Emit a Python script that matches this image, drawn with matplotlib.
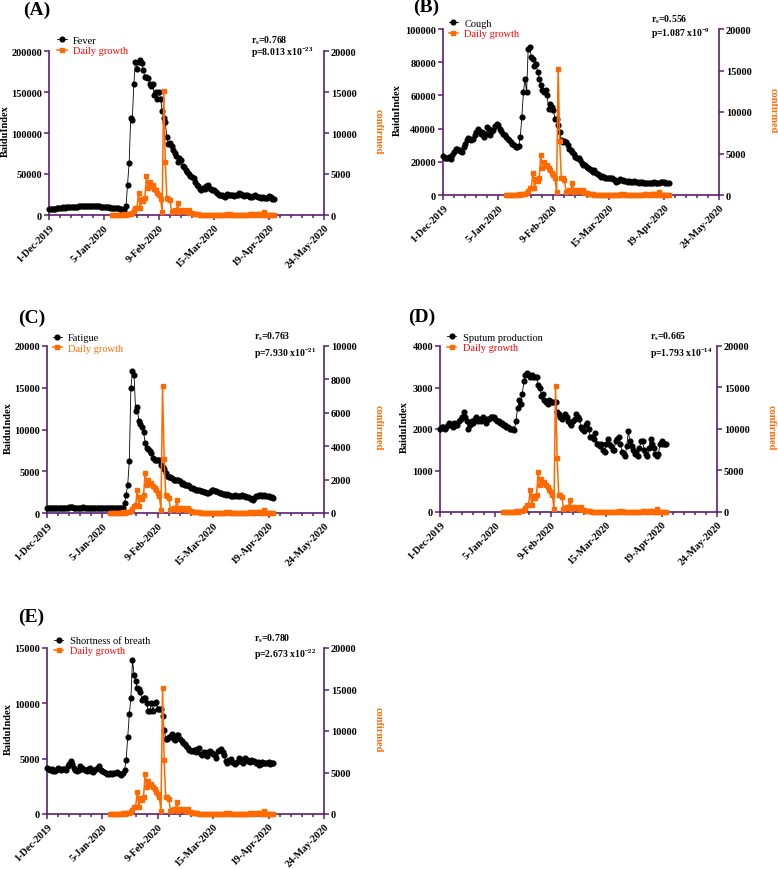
import pandas as pd
import matplotlib
matplotlib.use("Agg")
import matplotlib.pyplot as plt
import matplotlib.dates as mdates
from matplotlib.ticker import FixedLocator, MultipleLocator

plt.rcParams['font.family'] = ['Liberation Serif', 'DejaVu Serif']
plt.rcParams['font.weight'] = 'bold'
plt.rcParams['mathtext.fontset'] = 'custom'
plt.rcParams['mathtext.rm'] = 'Liberation Serif'
plt.rcParams['mathtext.bf'] = 'Liberation Serif:bold'
plt.rcParams['mathtext.it'] = 'Liberation Serif:italic'

# ---- data: Baidu index, daily from 1-Dec-2019 ----
FEVER = [
    7000, 7500, 7000, 7200, 7800, 8000, 8500, 8800, 9000, 9200,
    9000, 9500, 10000, 9800, 9500, 10000, 10200, 10000, 10300, 10500,
    10800, 11000, 10500, 11000, 11200, 11000, 11500, 11300, 11000, 11200,
    10800, 11000, 10500, 10200, 10000, 9800, 9500, 9500, 9200, 9000,
    8800, 8500, 8600, 8200, 8000, 7500, 7000, 6000, 5500, 11000,
    37000, 64000, 118000, 116000, 160000, 187000, 178000, 187000, 189000, 185000,
    177000, 168000, 168000, 167000, 160000, 157000, 160000, 146000, 150000, 142000,
    150000, 142000, 127000, 118000, 113000, 95000, 87000, 88000, 84000, 79000,
    76000, 72000, 65000, 70000, 67000, 60000, 58000, 55000, 52000, 50000,
    47000, 46000, 45000, 40000, 37000, 35000, 32000, 31000, 33000, 32000,
    35000, 36000, 33000, 32000, 31000, 30000, 28000, 27000, 25000, 25000,
    24000, 23000, 22000, 26000, 25000, 24000, 25000, 24000, 23000, 24000,
    24000, 27000, 26000, 24000, 23000, 24000, 25000, 23000, 22000, 22000,
    23000, 24000, 23000, 22000, 22000, 21000, 22000, 21000, 21000, 21000,
    23000, 22000, 20000, 19000,
]

COUGH = [
    23500, 22000, 22500, 22000, 23000, 21500, 24000, 26000, 27500, 28000,
    27000, 26500, 26000, 29000, 31000, 33000, 34500, 34000, 33000, 33500,
    36000, 38000, 39500, 38500, 37000, 38000, 35000, 37000, 41000, 40000,
    36000, 38500, 39000, 41500, 42500, 42000, 40000, 38500, 37000, 36000,
    35000, 34000, 33000, 32000, 31000, 30000, 29000, 29000, 29500, 35000,
    47000, 62000, 70000, 62000, 88000, 89000, 83000, 82000, 78000, 79000,
    74000, 70000, 66000, 63000, 62000, 63000, 60000, 52000, 55000, 53000,
    51000, 46000, 46000, 42000, 38000, 33000, 32000, 32500, 32000, 30000,
    28000, 27000, 26000, 25000, 23000, 22000, 22000, 21000, 19000, 18000,
    18000, 17000, 16000, 15500, 15000, 14000, 15000, 13000, 12500, 12000,
    11000, 11500, 11000, 10500, 10000, 10000, 10500, 10000, 9500, 9000,
    8000, 8500, 9500, 9000, 9000, 8500, 8500, 8000, 8500, 8000,
    8000, 8500, 8000, 8000, 7500, 8000, 8000, 7500, 7500, 7500,
    7000, 7500, 7500, 7500, 8000, 7500, 7500, 7500, 8000, 8000,
    7800, 7500, 7500, 7500,
]

FATIGUE = [
    600, 620, 600, 580, 600, 620, 640, 600, 620, 650,
    640, 620, 600, 650, 680, 700, 680, 650, 640, 620,
    600, 620, 650, 680, 650, 620, 600, 620, 640, 600,
    580, 600, 620, 600, 580, 560, 580, 600, 580, 560,
    580, 600, 580, 560, 580, 600, 580, 600, 620, 1200,
    2200, 3400, 6200, 15000, 17000, 16500, 12200, 12700, 11000, 10600,
    10300, 9700, 8400, 7800, 7700, 7400, 7200, 6600, 6300, 6300,
    6400, 6400, 5800, 5500, 5300, 4800, 4400, 4300, 4300, 4200,
    4000, 4000, 3900, 4000, 3800, 3500, 3600, 3400, 3300, 3300,
    3200, 3000, 3000, 2900, 2800, 2700, 2700, 2600, 2600, 2500,
    2500, 2400, 2400, 2500, 2800, 2700, 2600, 2600, 2500, 2400,
    2400, 2300, 2300, 2200, 2300, 2200, 2000, 2000, 2000, 2100,
    2000, 2000, 2000, 2100, 2000, 2000, 1900, 1900, 1800, 1700,
    1600, 1800, 2000, 2000, 2100, 2100, 2000, 2100, 2000, 2000,
    2000, 1900, 1900, 1800,
]

SPUTUM = [
    2000, 2050, 2050, 2000, 2050, 2100, 2150, 2100, 2050,
    2150, 2100, 2100, 2200, 2250, 2300, 2400, 2300, 2200, 2000,
    2100, 2200, 2150, 2250, 2300, 2200, 2250, 2200, 2300, 2250,
    2150, 2250, 2250, 2300, 2300, 2300, 2250, 2200, 2200, 2150,
    2150, 2100, 2100, 2050, 2050, 2000, 2000, 2000, 1980, 2200,
    2500, 2700, 2600, 2850, 3150, 3300, 3350, 3300, 3250, 3300,
    3250, 3250, 3250, 3050, 3000, 2800, 2850, 2700, 2650, 2600,
    2700, 2650, 2650, 2650, 2650, 2400, 2350, 2300, 2250, 2300,
    2350, 2300, 2200, 2150, 2100, 2200, 2250, 2350, 2300, 2250,
    2050, 2000, 1950, 2100, 2150, 2000, 1800, 1800, 1750, 1900,
    1650, 1650, 1600, 1650, 1500, 1450, 1650, 1750, 1650, 1600,
    1500, 1500, 1700, 1750, 1800, 1650, 1450, 1400, 1350, 1600,
    1950, 1700, 1600, 1500, 1400, 1450, 1350, 1550, 1700, 1700,
    1500, 1400, 1350, 1550, 1750, 1650, 1550, 1400, 1350, 1400,
    1650, 1700, 1650, 1650, 1650,
]

BREATH = [
    4150, 4100, 4000, 4050, 3900, 3850, 4000, 4200, 4050, 3950,
    4100, 4050, 4000, 4300, 4500, 4800, 4500, 4200, 4000, 3900,
    4000, 4300, 4200, 4100, 4000, 3900, 4100, 4200, 3900, 3800,
    4000, 4100, 4200, 4300, 4000, 3900, 3800, 3700, 3600, 3600,
    3700, 3600, 3700, 3700, 3800, 3700, 3600, 3500, 3700, 4000,
    4900, 7000, 9000, 10500, 13900, 12600, 12000, 11400, 11300, 11000,
    10300, 10500, 10500, 10000, 9300, 9300, 10000, 9300, 10000, 10100,
    9500, 9500, 9500, 8900, 7600, 6800, 6800, 7000, 7000, 7200,
    6800, 6700, 7100, 7100, 6800, 6600, 6400, 6300, 6100, 6000,
    5800, 5700, 5700, 5800, 5600, 5900, 6000, 5400, 5300, 5600,
    5400, 5200, 5600, 5700, 5500, 5400, 5300, 5100, 5700, 5800,
    5900, 5600, 5300, 4800, 4600, 4900, 5000, 4700, 4600, 4500,
    4700, 5100, 5000, 4700, 4600, 5100, 5000, 4800, 4700, 4900,
    4800, 4800, 4600, 4700, 4400, 4500, 4700, 4600, 4600, 4650,
    4700, 4500, 4600, 4650,
]

# daily growth of confirmed cases, from 10-Jan-2020
DAILY = [
    0, 0, 0, 0, 0, 0, 4, 17, 136, 19,
    77, 149, 131, 259, 500, 800, 900, 2700, 800, 1900,
    1700, 2100, 4800, 3300, 4000, 3500, 3600, 3200, 3000, 2700,
    2400, 2000, 400, 15152, 6500, 2100, 2000, 1800, 400, 450,
    600, 450, 1500, 400, 600, 500, 600, 450, 400, 550,
    300, 200, 150, 130, 150, 100, 60, 45, 40, 20,
    25, 15, 10, 12, 20, 16, 21, 13, 34, 39,
    41, 46, 39, 78, 47, 67, 55, 54, 45, 31,
    48, 36, 35, 31, 19, 30, 39, 32, 62, 63,
    42, 46, 99, 108, 89, 46, 46, 352, 27, 16,
    12, 11, 30, 11,
]

BAIDU_START = '2019-12-01'
DAILY_START = '2020-01-10'
TICK_DATES = ['2019-12-01', '2020-01-05', '2020-02-09', '2020-03-15', '2020-04-19', '2020-05-24']
TICK_LABELS = ['1-Dec-2019', '5-Jan-2020', '9-Feb-2020', '15-Mar-2020', '19-Apr-2020', '24-May-2020']

PURPLE = '#5a1f72'
ORANGE = '#ff6a00'
W, H = 778, 870

# layout / style per panel (pixel rects: left, top, right, bottom)
panels = [
    dict(series=FEVER, name='Fever', rect=(49, 52, 324, 216), ymax=200000, ystep=50000,
         rmax=20000, rstep=5000, scale=1.0, rs='0.768', p='8.013', ex='-23',
         tag='(A)', tag_xy=(23, 10), ylab_x=-0.16, leg=(0.03, 1.069, 0.998),
         rs_xy=(0.735, 1.071, 0.996), gcol='red'),
    dict(series=COUGH, name='Cough', rect=(443, 30, 719, 196), ymax=100000, ystep=20000,
         rmax=20000, rstep=5000, scale=1.0, rs='0.556', p='1.087', ex='-9',
         tag='(B)', tag_xy=(413, 7), ylab_x=-0.165, leg=(0.02, 1.034, 0.974),
         rs_xy=(0.753, 1.062, 0.978), gcol='red'),
    # growth series is drawn at half height in this panel, as in the original
    dict(series=FATIGUE, name='Fatigue', rect=(47, 347, 324, 514), ymax=20000, ystep=5000,
         rmax=10000, rstep=2000, scale=0.5, rs='0.763', p='7.930', ex='-21',
         tag='(C)', tag_xy=(18, 318), ylab_x=-0.14, leg=(0.02, 1.048, 0.988),
         rs_xy=(0.748, 1.06, 0.958), gcol=ORANGE),
    dict(series=SPUTUM, name='Sputum production', rect=(440, 347, 717, 513), ymax=4000, ystep=1000,
         rmax=20000, rstep=5000, scale=1.0, rs='0.665', p='1.793', ex='-14',
         tag='(D)', tag_xy=(408, 317), ylab_x=-0.127, leg=(0.025, 1.052, 0.992),
         rs_xy=(0.759, 1.06, 0.962), gcol='red'),
    dict(series=BREATH, name='Shortness of breath', rect=(47, 649, 324, 815), ymax=15000, ystep=5000,
         rmax=20000, rstep=5000, scale=1.0, rs='0.780', p='2.673', ex='-22',
         tag='(E)', tag_xy=(18, 617), ylab_x=-0.14, leg=(0.025, 1.044, 0.984),
         rs_xy=(0.748, 1.062, 0.964), gcol='red'),
]

fig = plt.figure(figsize=(W / 100, H / 100), dpi=100)

tick_pos = pd.to_datetime(TICK_DATES)
minor_pos = mdates.date2num(pd.date_range(TICK_DATES[0], TICK_DATES[-1], freq='7D'))
growth_dates = pd.date_range(DAILY_START, periods=len(DAILY))

for cfg in panels:
    l, t, r, b = cfg['rect']
    ax = fig.add_axes([l / W, 1 - b / H, (r - l) / W, (b - t) / H])
    ax2 = ax.twinx()

    dates = pd.date_range(BAIDU_START, periods=len(cfg['series']))
    h1, = ax.plot(dates, cfg['series'], color='black', lw=0.6, marker='o', ms=3.4,
                  clip_on=False, zorder=3, label=cfg['name'])
    growth = [v * cfg['scale'] for v in DAILY]
    h2, = ax2.plot(growth_dates, growth, color=ORANGE, lw=1.1, marker='s', ms=3.1,
                   clip_on=False, zorder=3, label='Daily growth')

    ax.set_xlim(tick_pos[0], tick_pos[-1])
    ax.set_ylim(0, cfg['ymax'])
    ax2.set_ylim(0, cfg['rmax'])
    ax.yaxis.set_major_locator(MultipleLocator(cfg['ystep']))
    ax2.yaxis.set_major_locator(MultipleLocator(cfg['rstep']))
    ax.ticklabel_format(axis='y', style='plain', useOffset=False)
    ax2.ticklabel_format(axis='y', style='plain', useOffset=False)

    ax.set_xticks(tick_pos)
    ax.set_xticklabels(TICK_LABELS, rotation=45, ha='right', va='top',
                       rotation_mode='anchor', fontsize=7.3)
    ax.xaxis.set_minor_locator(FixedLocator(minor_pos))

    for a in (ax, ax2):
        a.spines['top'].set_visible(False)
        for s in a.spines.values():
            s.set_color(PURPLE)
            s.set_linewidth(1.2)
        a.tick_params(axis='y', which='major', color=PURPLE, labelcolor='black',
                      width=1.1, length=3.5, pad=1.5, labelsize=7.5)
        a.tick_params(axis='x', which='major', color=PURPLE, labelcolor='black',
                      width=1.1, length=3.5, pad=2)
        a.tick_params(axis='x', which='minor', color=PURPLE, width=1.1, length=2.5)
    ax.spines['right'].set_visible(False)
    ax2.spines['left'].set_visible(False)
    ax2.spines['bottom'].set_visible(False)

    ax.text(cfg['ylab_x'], 0.515, 'BaiduIndex', rotation=90, ha='center', va='center',
            fontsize=7.5, transform=ax.transAxes)
    ax2.text(1.195, 0.515, 'confirmed', rotation=270, ha='center', va='center',
             fontsize=7.5, color=ORANGE, transform=ax2.transAxes)

    lx, r1, r2 = cfg['leg']
    leg = ax2.legend(handles=[h1, h2], loc='center left', bbox_to_anchor=(lx, (r1 + r2) / 2),
                     frameon=False, borderpad=0, borderaxespad=0, labelspacing=0.1,
                     handlelength=0.9, handletextpad=0.6, prop={'size': 7.5, 'weight': 'normal'})
    leg.get_texts()[1].set_color(cfg['gcol'])

    rx, y1, y2 = cfg['rs_xy']
    ax2.text(rx, y1, r'r$_\mathbf{s}$=' + cfg['rs'], ha='left', va='center',
             fontsize=7, transform=ax2.transAxes)
    ax2.text(rx, y2, 'p=' + cfg['p'] + r' x10$^{\mathbf{' + cfg['ex'] + '}}$', ha='left',
             va='center', fontsize=7, transform=ax2.transAxes)

    tx, ty = cfg['tag_xy']
    fig.text(tx / W, 1 - ty / H, cfg['tag'], ha='left', va='center', fontsize=14)

fig.savefig('out.png', dpi=100)
